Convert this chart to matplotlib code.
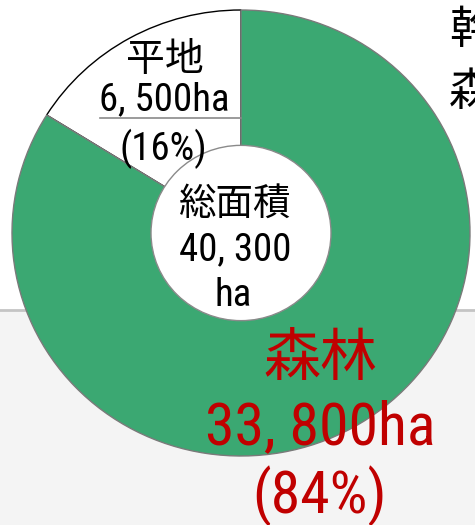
import matplotlib
matplotlib.use("Agg")
import matplotlib.pyplot as plt
from matplotlib.patches import Circle, Rectangle
from matplotlib.lines import Line2D

# data
categories = ["平地", "森林"]
areas_ha = [6500, 33800]
total_label = "総面積"
side_chars = ["幹", "森"]

GREEN = "#3ba872"
RED = "#c00000"
NUM_FONT = ["Roboto Condensed", "Noto Sans CJK JP", "DejaVu Sans"]
JP_FONT = ["Noto Sans CJK JP", "DejaVu Sans"]

W, H = 475, 525
fig = plt.figure(figsize=(W / 100, H / 100), dpi=100)


def fx(px):
    return px / W


def fy(py):
    return 1 - py / H


# fond : blanc en haut, bande grise en bas
fig.patches.append(Rectangle((0, 0), 1, fy(310), transform=fig.transFigure,
                             facecolor="#f4f4f4", edgecolor="none", zorder=0))
fig.add_artist(Line2D([0, 1], [fy(310), fy(310)], color="#c4c4c4", lw=2, zorder=1))

# anneau, boite exterieure 12..470 x 10..456 px
ax = fig.add_axes([fx(12), fy(456), fx(458), 446 / H])
ax.set_zorder(2)
ax.patch.set_alpha(0)

wedges, _ = ax.pie(areas_ha, colors=["white", GREEN], startangle=90,
                   counterclock=True, radius=1, center=(0, 0), frame=False,
                   wedgeprops=dict(linewidth=1.0))
ax.set_aspect("auto")
ax.set_xlim(-1, 1)
ax.set_ylim(-1, 1)
ax.axis("off")
wedges[0].set_edgecolor("black")
wedges[0].set_zorder(2)
wedges[1].set_edgecolor("#7a7a7a")
wedges[1].set_zorder(3)
ax.add_patch(Circle((0, 0), 0.393, facecolor="white", edgecolor="#8a8a8a",
                    lw=1.0, zorder=4))

total = sum(areas_ha)
pcts = [round(a / total * 100) for a in areas_ha]


def fmt(v):
    return f"{v:,}".replace(",", ", ")


# trait sous l'etiquette du plat
fig.add_artist(Line2D([fx(100), fx(241)], [fy(118), fy(118)],
                      color="#8a8a8a", lw=1.2, zorder=5))

# etiquette plat
fig.text(fx(165), fy(60), categories[0], family=JP_FONT, fontsize=28,
         ha="center", va="center", zorder=6)
fig.text(fx(164), fy(100), fmt(areas_ha[0]) + "ha", family=NUM_FONT,
         fontsize=28, ha="center", va="center", zorder=6)
fig.text(fx(163), fy(149), f"({pcts[0]}%)", family=NUM_FONT, fontsize=28,
         ha="center", va="center", zorder=6)

# etiquette centrale
fig.text(fx(235), fy(204), total_label, family=JP_FONT, fontsize=27,
         ha="center", va="center", zorder=6)
fig.text(fx(235), fy(250), fmt(total), family=NUM_FONT, fontsize=28,
         ha="center", va="center", zorder=6)
fig.text(fx(233), fy(295), "ha", family=NUM_FONT, fontsize=28,
         ha="center", va="center", zorder=6)

# etiquette foret
fig.text(fx(320), fy(359), categories[1], family=JP_FONT, fontsize=41,
         color=RED, ha="center", va="center", zorder=6)
fig.text(fx(320), fy(428), fmt(areas_ha[1]) + "ha", family=NUM_FONT,
         fontsize=43, color=RED, ha="center", va="center", zorder=6)
fig.text(fx(320), fy(496), f"({pcts[1]}%)", family=NUM_FONT, fontsize=43,
         color=RED, ha="center", va="center", zorder=6)

# texte coupe au bord droit
fig.text(fx(449), fy(30), side_chars[0], family=JP_FONT, fontsize=32,
         ha="left", va="center", zorder=6)
fig.text(fx(449), fy(92), side_chars[1], family=JP_FONT, fontsize=32,
         ha="left", va="center", zorder=6)

fig.savefig("out.png", dpi=100)
